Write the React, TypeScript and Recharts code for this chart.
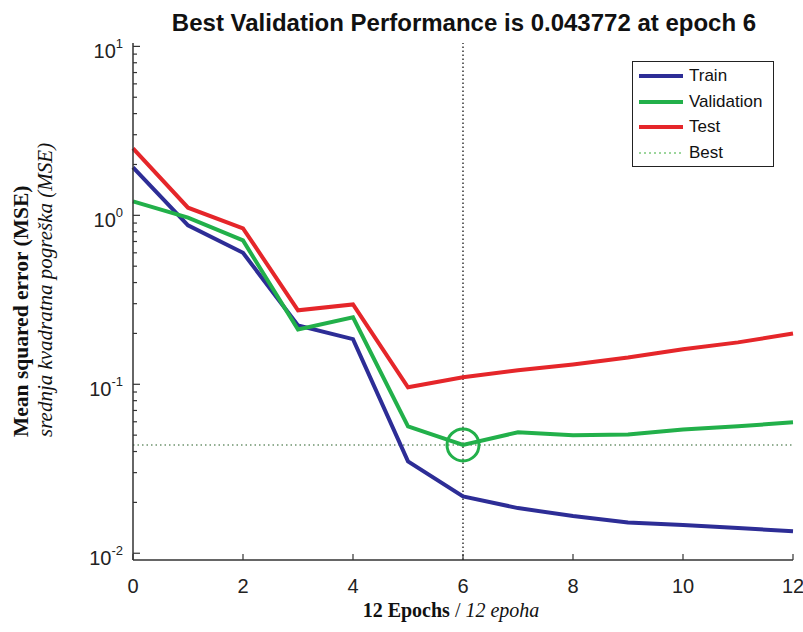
import React from 'react'
import {
  LineChart,
  Line,
  XAxis,
  YAxis,
  ReferenceLine,
  ReferenceDot,
} from 'recharts'

// values (log scale)
const epochs = [0, 1, 2, 3, 4, 5, 6, 7, 8, 9, 10, 11, 12]
const trainMse = [1.92, 0.873, 0.6, 0.223, 0.185, 0.035, 0.0217, 0.0185, 0.0166, 0.0152, 0.0147, 0.0141, 0.0135]
const validationMse = [1.21, 0.97, 0.71, 0.211, 0.249, 0.0564, 0.043772, 0.052, 0.0499, 0.0505, 0.054, 0.0564, 0.0596]
const testMse = [2.49, 1.11, 0.838, 0.274, 0.297, 0.096, 0.11, 0.121, 0.131, 0.144, 0.161, 0.177, 0.2]

const bestEpoch = 6
const bestValue = 0.043772

const xTicks = [0, 2, 4, 6, 8, 10, 12]
const yDecades = [0.01, 0.1, 1]
const yMinorSteps = [1, 2, 3, 4, 5, 6, 7, 8, 9]
const yTop = 10

const yTicks = [...yDecades.flatMap((d) => yMinorSteps.map((m) => m * d)), yTop]

const data = epochs.map((e, i) => ({
  epoch: e,
  train: trainMse[i],
  validation: validationMse[i],
  test: testMse[i],
}))

const series = [
  { key: 'train', name: 'Train', color: '#2d2d96' },
  { key: 'validation', name: 'Validation', color: '#22b04a' },
  { key: 'test', name: 'Test', color: '#e5262a' },
]

const sans = '"Liberation Sans", Arial, sans-serif'
const serif = '"Liberation Serif", "Times New Roman", serif'
const axisColor = '#333'

function YTick(props: any) {
  const { x, y, payload } = props
  const exp = Math.log10(payload.value)
  const major = Math.abs(exp - Math.round(exp)) < 1e-6
  return (
    <g>
      <line x1={x} x2={x + (major ? 7 : 4)} y1={y} y2={y} stroke={axisColor} strokeWidth={1.2} />
      {major && (
        <text x={x - 10} y={y + 12} textAnchor="end" fontFamily={sans} fontSize={20} fill="#222">
          <tspan>10</tspan>
          <tspan dy={-10} fontSize={13}>{Math.round(exp)}</tspan>
        </text>
      )}
    </g>
  )
}

function XTick(props: any) {
  const { x, y, payload } = props
  return (
    <g>
      <line x1={x} x2={x} y1={y} y2={y - 6} stroke={axisColor} strokeWidth={1.2} />
      <text x={x} y={y + 33} textAnchor="middle" fontFamily={sans} fontSize={20} fill="#222">
        {payload.value}
      </text>
    </g>
  )
}

// two-line label, both lines start at the same height (left aligned before rotation)
function YLabel() {
  const bottom = 437
  return (
    <g fontFamily={serif} fill="#111">
      <text x={28} y={bottom} fontSize={21.5} fontWeight="bold" transform={`rotate(-90, 28, ${bottom})`}>
        Mean squared error (MSE)
      </text>
      <text x={52} y={bottom} fontSize={21} fontStyle="italic" transform={`rotate(-90, 52, ${bottom})`}>
        srednja kvadratna pogreška (MSE)
      </text>
    </g>
  )
}

function XLabel(props: any) {
  const { viewBox } = props
  const cx = viewBox.x + viewBox.width / 2 - 12
  return (
    <text x={cx} y={617} textAnchor="middle" fontFamily={serif} fontSize={20} fill="#111">
      <tspan fontWeight="bold">12 Epochs</tspan>
      <tspan> / </tspan>
      <tspan fontStyle="italic">12 epoha</tspan>
    </text>
  )
}

function LegendBox() {
  const rows = [
    ...series.map((s) => ({ name: s.name, color: s.color, dash: undefined as string | undefined, w: 4 })),
    { name: 'Best', color: '#7cc97c', dash: '2 3', w: 1.5 },
  ]
  return (
    <div
      style={{
        position: 'absolute',
        left: 632,
        top: 61,
        width: 140,
        height: 104,
        border: '1px solid #222',
        background: '#fff',
        fontFamily: sans,
        fontSize: 17,
        color: '#111',
      }}
    >
      {rows.map((r, i) => (
        <div key={r.name} style={{ position: 'absolute', left: 5, top: 1 + i * 25.5, height: 26, display: 'flex', alignItems: 'center' }}>
          <svg width={46} height={10} style={{ marginRight: 5 }}>
            <line x1={1} x2={45} y1={5} y2={5} stroke={r.color} strokeWidth={r.w} strokeDasharray={r.dash} />
          </svg>
          <span>{r.name}</span>
        </div>
      ))}
    </div>
  )
}

export default function App() {
  return (
    <div style={{ position: 'absolute', left: 0, top: 0, width: 803, height: 632, background: '#fff', overflow: 'hidden' }}>
      <div
        style={{
          position: 'absolute',
          left: 64,
          top: 11,
          width: 800,
          textAlign: 'center',
          fontFamily: sans,
          fontWeight: 'bold',
          fontSize: 24,
          lineHeight: '24px',
          color: '#111',
        }}
      >
        Best Validation Performance is 0.043772 at epoch 6
      </div>
      <LineChart width={803} height={632} data={data} margin={{ top: 43, right: 10, bottom: 0, left: 0 }}>
        <XAxis
          dataKey="epoch"
          type="number"
          domain={[0, 12]}
          ticks={xTicks}
          interval={0}
          tickSize={0}
          tickMargin={0}
          height={72}
          stroke={axisColor}
          strokeWidth={1.5}
          tick={<XTick />}
          label={<XLabel />}
        />
        <YAxis
          scale="log"
          type="number"
          domain={[Math.pow(10, -2.04), Math.pow(10, 1.02)]}
          allowDataOverflow
          ticks={yTicks}
          interval={0}
          tickSize={0}
          tickMargin={0}
          width={133}
          stroke={axisColor}
          strokeWidth={1.5}
          tick={<YTick />}
          label={<YLabel />}
        />
        <ReferenceLine y={bestValue} stroke="#6f946f" strokeWidth={1.5} strokeDasharray="1.5 3" />
        <ReferenceLine x={bestEpoch} stroke="#333" strokeWidth={1.5} strokeDasharray="1.5 2.5" />
        {series.map((s) => (
          <Line
            key={s.key}
            type="linear"
            dataKey={s.key}
            name={s.name}
            stroke={s.color}
            strokeWidth={4}
            dot={false}
            activeDot={false}
            isAnimationActive={false}
          />
        ))}
        <ReferenceDot x={bestEpoch} y={bestValue} r={16} fill="none" stroke="#22b04a" strokeWidth={3} />
      </LineChart>
      <LegendBox />
    </div>
  )
}
